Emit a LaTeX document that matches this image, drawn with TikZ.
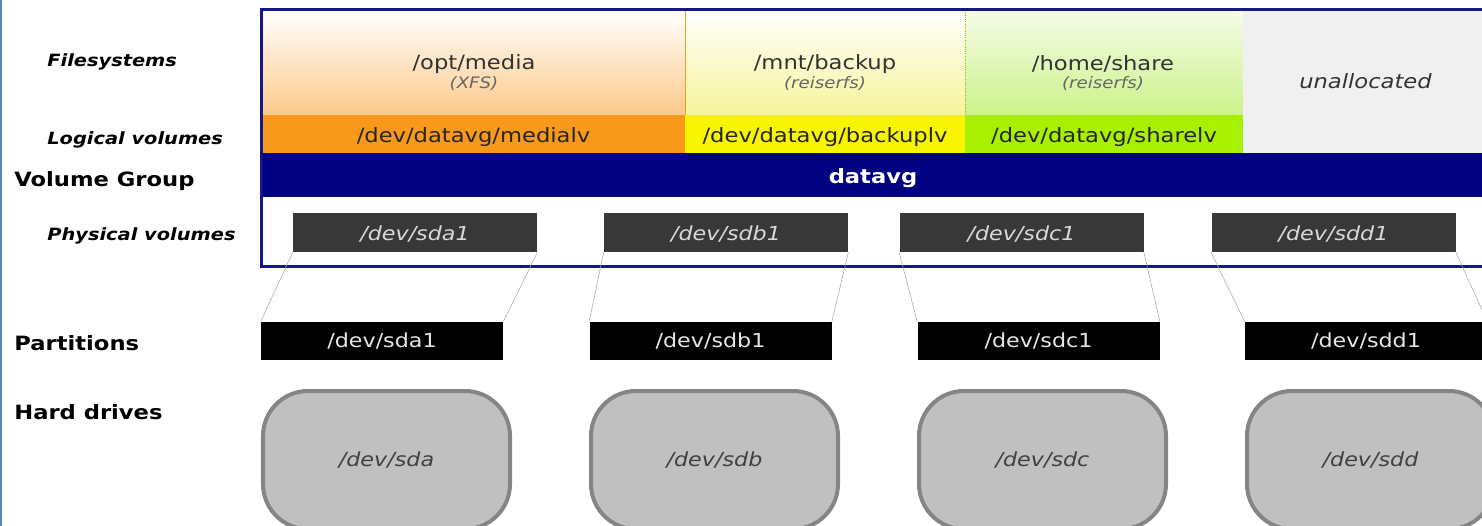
\documentclass[tikz,border=0pt]{standalone}
\usepackage{fontspec}
\setmainfont{DejaVu Sans}[FakeStretch=1.15]
\usepackage{xcolor}
\usepackage{tikz}
\usetikzlibrary{positioning}

\definecolor{vgnavy}{HTML}{000080}
\definecolor{framenavy}{HTML}{16168C}
\definecolor{mediaorange}{HTML}{F9991C}
\definecolor{mediafade}{HTML}{FCC98A}
\definecolor{backupyellow}{HTML}{F8F500}
\definecolor{backupfade}{HTML}{F6F49A}
\definecolor{sharegreen}{HTML}{A8F000}
\definecolor{sharetop}{HTML}{F5FCE8}
\definecolor{sharefade}{HTML}{CCF28A}
\definecolor{unallocgray}{HTML}{F0F0F0}
\definecolor{pvgray}{HTML}{383838}
\definecolor{diskgray}{HTML}{C0C0C0}
\definecolor{diskedge}{HTML}{858585}
\definecolor{edgeblue}{HTML}{4A8CC8}

\tikzset{
  layerlabel/.style={
    anchor=west, inner sep=0pt,
    font=\bfseries\itshape\fontsize{9.6}{11}\selectfont
  },
  levellabel/.style={
    anchor=west, inner sep=0pt,
    font=\bfseries\fontsize{11.2}{13}\selectfont
  },
  cell/.style={
    anchor=north west, inner sep=0pt, outer sep=0pt
  },
  lowtext/.style={
    text height=0.95em, text depth=0pt
  },
  fsname/.style={
    inner sep=0pt, text=black!80,
    font=\fontsize{11.2}{13}\selectfont
  },
  fstype/.style={
    inner sep=0pt, text=black!60,
    font=\itshape\fontsize{9}{11}\selectfont
  },
  lvcell/.style={
    cell, lowtext, minimum height=7.6mm, text=black!85,
    font=\fontsize{11.2}{13}\selectfont
  },
  pvbox/.style={
    fill=pvgray, minimum width=48.8mm, minimum height=7.8mm,
    inner sep=0pt, lowtext, text=black!15,
    font=\itshape\fontsize{11}{13}\selectfont
  },
  partbox/.style={
    fill=black, minimum width=48.4mm, minimum height=7.6mm,
    inner sep=0pt, text=white!90!black,
    font=\fontsize{11}{13}\selectfont
  },
  diskbox/.style={
    draw=diskedge, fill=diskgray, line width=0.8mm,
    rounded corners=9mm, minimum width=49.4mm, minimum height=27.6mm,
    inner sep=0pt, text=black!75,
    font=\itshape\fontsize{11}{13}\selectfont
  },
  pvlink/.style={draw=gray!70, line width=0.3pt},
}

\begin{document}
\begin{tikzpicture}[x=0.2mm, y=-0.2mm]
  \useasboundingbox (0,0) rectangle (1482,526);
  \clip (0,0) rectangle (1482,526);

  % Window edge
  \draw[edgeblue, line width=0.4mm] (1,0) -- (1,526);

  % Layer labels
  \node[layerlabel] (fslabel) at (47,62) {Filesystems};
  \node[layerlabel] (lvlabel) at (47,140) {Logical volumes};
  \node[levellabel] (vglabel) at (14,181) {Volume Group};
  \node[layerlabel] (pvlabel) at (47,236) {Physical volumes};
  \node[levellabel] (partlabel) at (14,343) {Partitions};
  \node[levellabel] (disklabel) at (14,412) {Hard drives};

  % Filesystems
  \node[cell, minimum width=84.6mm, minimum height=21mm,
    top color=white, middle color=white!85!mediafade, bottom color=mediafade]
    (mediafs) at (262,10) {};
  \node[cell, minimum width=56mm, minimum height=21mm,
    top color=white, middle color=white, bottom color=backupfade]
    (backupfs) at (685,10) {};
  \node[cell, minimum width=55.6mm, minimum height=21mm,
    top color=sharetop, middle color=sharetop!75!sharefade, bottom color=sharefade]
    (sharefs) at (965,10) {};
  \draw[mediaorange, line width=0.3pt] (backupfs.north west) -- (backupfs.south west);
  \draw[sharegreen!80!black, line width=0.3pt, densely dotted]
    (sharefs.north west) -- (sharefs.south west);
  \node[cell, fill=unallocgray, minimum width=49mm, minimum height=28.6mm,
    text=black!80, font=\itshape\fontsize{11.2}{13}\selectfont]
    (unalloc) at (1243,10) {unallocated};

  \node[fsname] (mediapath) at (474,64) {/opt/media};
  \node[fstype] (mediatype) at (474,84) {(XFS)};
  \node[fsname] (backuppath) at (825,64) {/mnt/backup};
  \node[fstype] (backuptype) at (825,84) {(reiserfs)};
  \node[fsname] (sharepath) at (1103,64) {/home/share};
  \node[fstype] (sharetype) at (1103,84) {(reiserfs)};

  % Logical volumes
  \node[lvcell, fill=mediaorange, minimum width=84.6mm] (medialv)
    at (262,115) {/dev/datavg/medialv};
  \node[lvcell, fill=backupyellow, minimum width=56mm] (backuplv)
    at (685,115) {/dev/datavg/backuplv};
  \node[lvcell, fill=sharegreen, minimum width=55.6mm] (sharelv)
    at (965,115) {/dev/datavg/sharelv};

  % Volume group
  \node[cell, lowtext, fill=vgnavy, minimum width=244.4mm, minimum height=8.8mm,
    text=white, font=\bfseries\fontsize{11.2}{13}\selectfont]
    (datavg) at (262,153) {datavg};

  % Physical volumes
  \node[pvbox] (pva) at (415,232.5) {/dev/sda1};
  \node[pvbox] (pvb) at (726,232.5) {/dev/sdb1};
  \node[pvbox] (pvc) at (1021.5,232.5) {/dev/sdc1};
  \node[pvbox] (pvd) at (1333.5,232.5) {/dev/sdd1};

  % Frame round the volume group
  \node[cell, draw=framenavy, line width=0.6mm, minimum width=247.8mm,
    minimum height=51.4mm] (vgframe) at (261,9.5) {};

  % Partitions
  \node[partbox] (parta) at (382,341) {/dev/sda1};
  \node[partbox] (partb) at (710.5,341) {/dev/sdb1};
  \node[partbox] (partc) at (1038.5,341) {/dev/sdc1};
  \node[partbox] (partd) at (1366,341) {/dev/sdd1};

  \draw[pvlink] (pva.south west) -- (parta.north west);
  \draw[pvlink] (pva.south east) -- (parta.north east);
  \draw[pvlink] (pvb.south west) -- (partb.north west);
  \draw[pvlink] (pvb.south east) -- (partb.north east);
  \draw[pvlink] (pvc.south west) -- (partc.north west);
  \draw[pvlink] (pvc.south east) -- (partc.north east);
  \draw[pvlink] (pvd.south west) -- (partd.north west);
  \draw[pvlink] (pvd.south east) -- (partd.north east);

  % Hard drives
  \node[diskbox] (diska) at (386.5,460) {/dev/sda};
  \node[diskbox] (diskb) at (714.5,460) {/dev/sdb};
  \node[diskbox] (diskc) at (1042.5,460) {/dev/sdc};
  \node[diskbox] (diskd) at (1370.5,460) {/dev/sdd};
\end{tikzpicture}
\end{document}
